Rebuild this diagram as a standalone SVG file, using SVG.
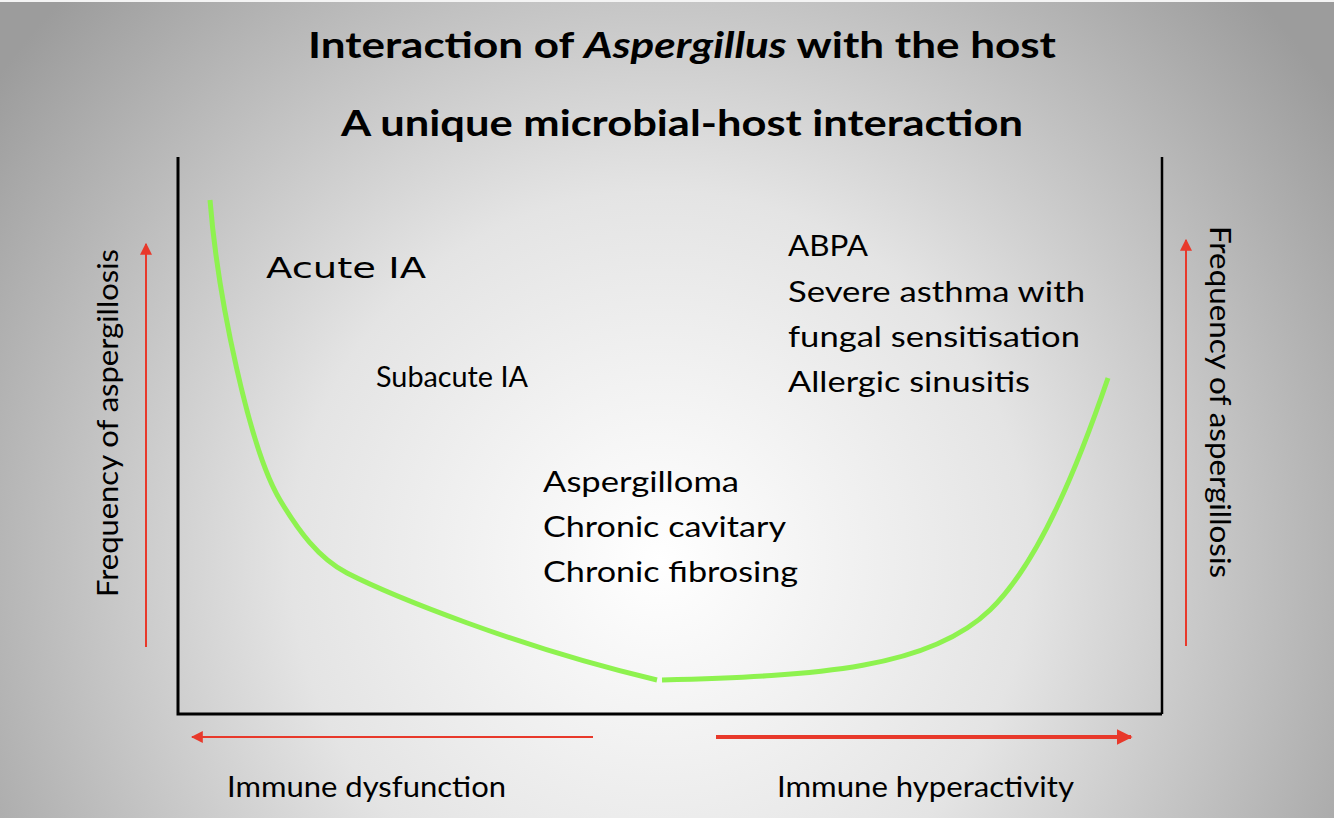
<svg xmlns="http://www.w3.org/2000/svg" width="1334" height="818" viewBox="0 0 1334 818">
<defs>
<radialGradient id="bg" cx="660" cy="560" r="820" gradientUnits="userSpaceOnUse">
<stop offset="0" stop-color="#ffffff"/>
<stop offset="0.45" stop-color="#e4e4e4"/>
<stop offset="1" stop-color="#9c9c9c"/>
</radialGradient>
<marker id="ah" viewBox="0 0 10 10" refX="9" refY="5" markerWidth="4" markerHeight="4" orient="auto" markerUnits="strokeWidth">
<path d="M0,0 L10,5 L0,10 z" fill="#e8392b"/>
</marker>
<marker id="ahs" viewBox="0 0 10 10" refX="9" refY="5" markerWidth="6" markerHeight="6" orient="auto" markerUnits="strokeWidth">
<path d="M0,0 L10,5 L0,10 z" fill="#e8392b"/>
</marker>
</defs>
<style>
.t{font-family:Lato,"Open Sans",sans-serif;fill:#000}
.h{font-weight:bold;font-size:37px}
.l{font-size:29px}
.c{font-family:"DejaVu Sans",sans-serif;font-size:29px}
.g{fill:none;stroke:#8ef24f;stroke-width:5}
.r{stroke:#e8392b;fill:none}
</style>
<rect width="1334" height="818" fill="url(#bg)"/>
<rect width="1334" height="2" fill="#f4f4f4"/>
<g id="title">
<text class="t h" x="682" y="58" text-anchor="middle" textLength="748" lengthAdjust="spacingAndGlyphs">Interaction of <tspan font-style="italic">Aspergillus</tspan> with the host</text>
<text class="t h" x="682" y="136" text-anchor="middle" textLength="682" lengthAdjust="spacingAndGlyphs">A unique microbial-host interaction</text>
</g>
<g id="axes" fill="none" stroke="#000">
<path d="M178,157 L178,714 L1162,714" stroke-width="3"/>
<path d="M1162,157 L1162,714" stroke-width="2.5"/>
</g>
<g id="connectors">
<path class="g" d="M210,200 C218,300 250,450 280,500 C298,530 318,558 347,573 C390,595 520,648 657,680"/>
<path class="g" d="M662,680 C820,676 930,668 990,610 C1040,562 1080,460 1108,378"/>
<path class="r" d="M146,647 L146,244" stroke-width="2" marker-end="url(#ahs)"/>
<path class="r" d="M1186,646 L1186,240" stroke-width="2" marker-end="url(#ahs)"/>
<path class="r" d="M593,737 L192,737" stroke-width="2" marker-end="url(#ahs)"/>
<path class="r" d="M716,737 L1131,737" stroke-width="4" marker-end="url(#ah)"/>
</g>
<g id="acute"><text class="c" x="266" y="278" textLength="160" lengthAdjust="spacingAndGlyphs">Acute IA</text></g>
<g id="subacute"><text class="t l" x="376" y="387" textLength="152" lengthAdjust="spacingAndGlyphs">Subacute IA</text></g>
<g id="chronic">
<text class="t l" x="543" y="492" textLength="196" lengthAdjust="spacingAndGlyphs">Aspergilloma</text>
<text class="t l" x="543" y="537" textLength="243" lengthAdjust="spacingAndGlyphs">Chronic cavitary</text>
<text class="t l" x="543" y="582" textLength="255" lengthAdjust="spacingAndGlyphs">Chronic fibrosing</text>
</g>
<g id="allergic">
<text class="t l" x="788" y="256" textLength="80" lengthAdjust="spacingAndGlyphs">ABPA</text>
<text class="t l" x="788" y="302" textLength="297" lengthAdjust="spacingAndGlyphs">Severe asthma with</text>
<text class="t l" x="788" y="347" textLength="292" lengthAdjust="spacingAndGlyphs">fungal sensitisation</text>
<text class="t l" x="788" y="392" textLength="242" lengthAdjust="spacingAndGlyphs">Allergic sinusitis</text>
</g>
<g id="xlabels">
<text class="t l" x="227" y="797" textLength="279" lengthAdjust="spacingAndGlyphs">Immune dysfunction</text>
<text class="t l" x="777" y="797" textLength="297" lengthAdjust="spacingAndGlyphs">Immune hyperactivity</text>
</g>
<g id="ylabels">
<text class="t l" transform="translate(118,597) rotate(-90)" x="0" y="0" textLength="348" lengthAdjust="spacingAndGlyphs">Frequency of aspergillosis</text>
<text class="t l" transform="translate(1210,226) rotate(90)" x="0" y="0" textLength="352" lengthAdjust="spacingAndGlyphs">Frequency of aspergillosis</text>
</g>
</svg>
